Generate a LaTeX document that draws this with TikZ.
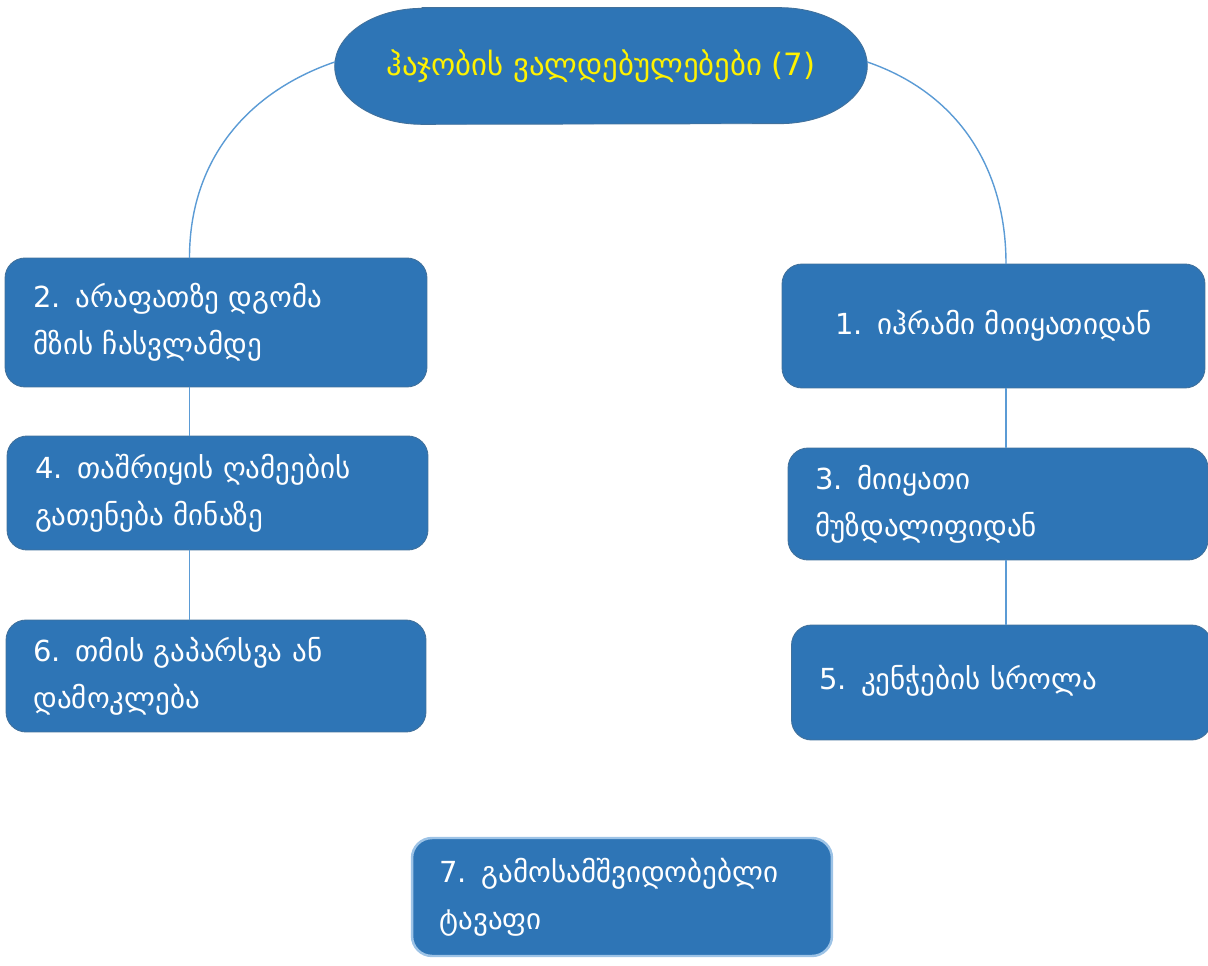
\documentclass[tikz,border=0pt]{standalone}
\usepackage{fontspec}
\setmainfont{DejaVu Sans}
\usetikzlibrary{backgrounds}
\definecolor{boxblue}{HTML}{2E75B6}
\definecolor{edgeblue}{HTML}{41719C}
\definecolor{linkblue}{HTML}{5B9BD5}
\definecolor{paleblue}{HTML}{9DC3E6}
\tikzset{
  duty/.style={draw=edgeblue,line width=.5pt,fill=boxblue,rounded corners=.4cm,
    text=white,align=left,text width=7.3cm,inner xsep=.55cm,
    font=\fontsize{16.5pt}{27pt}\selectfont},
  link/.style={draw=linkblue,line width=.8pt}
}
\begin{document}
\begin{tikzpicture}[x=.02cm,y=.02cm,line join=round,line cap=round]
  \useasboundingbox (0,-966) rectangle (1208,0);
  \def\lx{189.5} \def\rx{1006}
  \def\ex{1.75cm} \def\ey{1.16cm}
  \coordinate (lx) at (\lx,0);
  \coordinate (rx) at (\rx,0);
  % title
  \node[text=yellow,minimum width=10.64cm,minimum height=2.32cm,inner sep=0pt,
        font=\fontsize{17.5pt}{26pt}\selectfont] (title) at (601,-66)
        {ჰაჯობის ვალდებულებები (7)};
  \begin{scope}[on background layer]
    \draw[edgeblue,line width=.5pt,fill=boxblue]
      ([xshift=\ex]title.north west) -- ([xshift=-\ex]title.north east)
      arc[start angle=90,end angle=-90,x radius=\ex,y radius=\ey]
      -- ([xshift=\ex]title.south west)
      arc[start angle=270,end angle=90,x radius=\ex,y radius=\ey] -- cycle;
  \end{scope}
  % left column
  \node[duty,minimum width=8.44cm,minimum height=2.58cm] (box2) at (216,-322.5)
        {2. არაფათზე დგომა\\მზის ჩასვლამდე};
  \node[duty,minimum width=8.42cm,minimum height=2.28cm] (box4) at (217.5,-493)
        {4. თაშრიყის ღამეების\\გათენება მინაზე};
  \node[duty,minimum width=8.36cm,minimum height=2.24cm] (box6) at (216,-676)
        {6. თმის გაპარსვა ან\\დამოკლება};
  % right column
  \node[duty,align=center,minimum width=8.46cm,minimum height=2.48cm] (box1) at (993.5,-326)
        {\raisebox{.16cm}{1. იჰრამი მიიყათიდან}};
  \node[duty,minimum width=8.36cm,minimum height=2.24cm] (box3) at (998,-504)
        {3. მიიყათი\\მუზდალიფიდან};
  \node[duty,minimum width=8.26cm,minimum height=2.3cm] (box5) at (1001.5,-682.5)
        {\raisebox{.2cm}{5. კენჭების სროლა}};
  % bottom
  \node[duty,draw=paleblue,line width=1.4pt,minimum width=8.28cm,minimum height=2.36cm] (box7) at (622,-897)
        {7. გამოსამშვიდობებლი\\ტავაფი};
  % links
  \draw[link] (title.west) ++(0,4) to[out=199,in=90] (box2.north -| lx);
  \draw[link] (title.east) ++(0,4) to[out=-19,in=90] (box1.north -| rx);
  \foreach \a/\b/\c in {box2/box4/lx,box4/box6/lx,box1/box3/rx,box3/box5/rx}
    \draw[link] (\a.south -| \c) -- (\b.north -| \c);
\end{tikzpicture}
\end{document}
